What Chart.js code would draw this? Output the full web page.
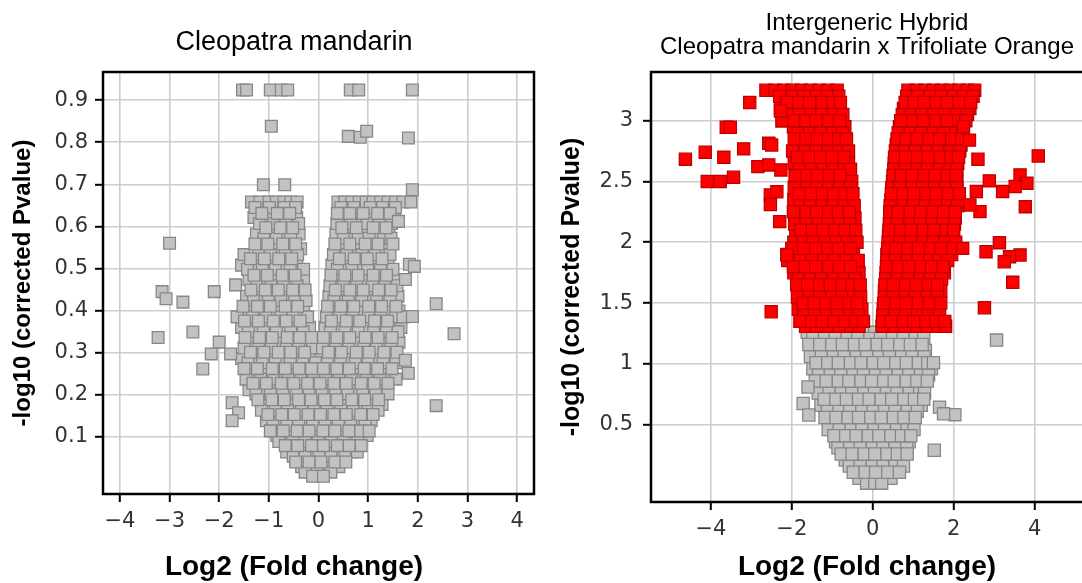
<!DOCTYPE html>
<html>
<head>
<meta charset="utf-8">
<script src="https://cdn.jsdelivr.net/npm/chart.js@4.4.1/dist/chart.umd.min.js"></script>
<style>
  html, body { margin: 0; padding: 0; background: #fff; overflow: hidden; width: 1082px; height: 583px; }
  canvas { position: absolute; top: 0; }
  #cleo { left: 0; }
  #hybrid { left: 545px; }
</style>
</head>
<body>
<canvas id="cleo" width="588" height="583"></canvas>
<canvas id="hybrid" width="644" height="583"></canvas>
<script>
// ---- tick values ----
const cleoXTicks = [-4, -3, -2, -1, 0, 1, 2, 3, 4];
const cleoYTicks = [0.1, 0.2, 0.3, 0.4, 0.5, 0.6, 0.7, 0.8, 0.9];
const hybridXTicks = [-4, -2, 0, 2, 4];
const hybridYTicks = [0.5, 1, 1.5, 2, 2.5, 3];

// ---- Cleopatra mandarin: rows of [ -log10 p, [log2 FC, ...] ] ----
const cleoRows = [
  [0.658, [-1.35, -1.18, -1.0, -0.85, -0.7, -0.56, -0.43, 0.39, 0.53, 0.67, 0.82, 0.96, 1.1, 1.25, 1.4, 1.55, 1.7, 1.86]],
  [0.645, [-1.28, -0.99, -0.69, -0.46, 0.45, 0.71, 1.04, 1.29, 1.55]],
  [0.631, [-1.14, -0.83, -0.58, 0.38, 0.63, 0.9, 1.19, 1.44]],
  [0.621, [-1.3, -1.01, -0.75, -0.44, 0.52, 0.79, 1.07, 1.31, 1.53]],
  [0.607, [-1.19, -0.9, -0.66, -0.4, 0.37, 0.65, 0.97, 1.22, 1.47]],
  [0.597, [-1.06, -0.77, -0.52, 0.47, 0.76, 1.1, 1.36]],
  [0.582, [-1.25, -0.95, -0.71, -0.39, 0.35, 0.62, 0.87, 1.16, 1.42]],
  [0.572, [-1.1, -0.85, -0.56, 0.5, 0.8, 1.02, 1.31, 1.46]],
  [0.558, [-1.28, -1.02, -0.72, -0.46, 0.33, 0.63, 0.94, 1.2, 1.5]],
  [0.547, [-1.15, -0.89, -0.6, -0.36, 0.47, 0.74, 1.07, 1.35]],
  [0.533, [-1.5, -1.21, -0.97, -0.67, -0.42, 0.3, 0.57, 0.88, 1.13, 1.44]],
  [0.523, [-1.37, -1.09, -0.8, -0.54, 0.42, 0.72, 0.98, 1.28]],
  [0.508, [-1.55, -1.26, -0.99, -0.71, -0.44, 0.27, 0.56, 0.84, 1.13, 1.4]],
  [0.498, [-1.43, -1.13, -0.87, -0.57, -0.3, 0.38, 0.67, 0.99, 1.25, 1.5]],
  [0.484, [-1.3, -1.03, -0.73, -0.47, 0.25, 0.53, 0.8, 1.1, 1.37]],
  [0.473, [-1.4, -1.11, -0.85, -0.57, -0.3, 0.36, 0.66, 0.93, 1.23, 1.52]],
  [0.459, [-1.25, -0.96, -0.71, -0.43, 0.23, 0.5, 0.77, 1.08, 1.34, 1.58]],
  [0.449, [-1.36, -1.07, -0.81, -0.52, -0.27, 0.34, 0.63, 0.9, 1.21, 1.46]],
  [0.434, [-1.45, -1.18, -0.89, -0.63, -0.38, 0.21, 0.46, 0.76, 1.02, 1.33, 1.6]],
  [0.424, [-1.31, -1.01, -0.76, -0.48, -0.25, 0.31, 0.6, 0.87, 1.17, 1.44]],
  [0.41, [-1.52, -1.23, -0.97, -0.67, -0.42, 0.18, 0.45, 0.71, 1.01, 1.27, 1.56]],
  [0.399, [-1.4, -1.11, -0.85, -0.56, -0.3, 0.29, 0.55, 0.86, 1.12, 1.42, 1.62]],
  [0.385, [-1.64, -1.33, -1.06, -0.76, -0.51, -0.22, 0.16, 0.43, 0.69, 1.0, 1.26, 1.55, 1.7]],
  [0.375, [-1.49, -1.21, -0.91, -0.65, -0.37, 0.26, 0.56, 0.83, 1.13, 1.39]],
  [0.36, [-1.55, -1.28, -0.98, -0.72, -0.43, -0.18, 0.13, 0.4, 0.66, 0.97, 1.23, 1.51, 1.66]],
  [0.35, [-1.41, -1.11, -0.85, -0.56, -0.31, 0.24, 0.53, 0.8, 1.11, 1.37, 1.6]],
  [0.336, [-1.48, -1.19, -0.93, -0.63, -0.38, -0.14, 0.1, 0.37, 0.63, 0.94, 1.2, 1.48]],
  [0.325, [-1.33, -1.06, -0.76, -0.51, -0.24, 0.21, 0.5, 0.77, 1.07, 1.33, 1.62]],
  [0.311, [-1.5, -1.21, -0.95, -0.65, -0.4, -0.12, 0.08, 0.35, 0.61, 0.91, 1.17, 1.46]],
  [0.301, [-1.37, -1.1, -0.81, -0.56, -0.28, 0.2, 0.46, 0.76, 1.02, 1.32, 1.58]],
  [0.286, [-1.55, -1.25, -0.99, -0.69, -0.44, -0.17, 0.05, 0.33, 0.59, 0.89, 1.15, 1.44]],
  [0.276, [-1.42, -1.13, -0.87, -0.57, -0.32, -0.06, 0.18, 0.44, 0.74, 1.0, 1.3, 1.56]],
  [0.262, [-1.5, -1.23, -0.93, -0.67, -0.39, -0.14, 0.1, 0.37, 0.62, 0.92, 1.19, 1.48]],
  [0.251, [-1.36, -1.07, -0.81, -0.52, -0.27, -0.02, 0.24, 0.51, 0.77, 1.07, 1.33]],
  [0.237, [-1.46, -1.17, -0.91, -0.61, -0.36, -0.1, 0.14, 0.41, 0.66, 0.96, 1.23, 1.56]],
  [0.227, [-1.32, -1.05, -0.75, -0.5, -0.22, 0.03, 0.31, 0.56, 0.86, 1.12, 1.4]],
  [0.212, [-1.4, -1.11, -0.85, -0.57, -0.32, -0.07, 0.19, 0.43, 0.73, 0.99, 1.29]],
  [0.202, [-1.26, -0.97, -0.72, -0.44, -0.19, 0.07, 0.34, 0.59, 0.89, 1.15, 1.4]],
  [0.188, [-1.22, -0.94, -0.69, -0.4, -0.15, 0.12, 0.37, 0.67, 0.93, 1.21]],
  [0.177, [-1.09, -0.83, -0.54, -0.3, -0.03, 0.25, 0.5, 0.8, 1.05, 1.28]],
  [0.163, [-1.15, -0.87, -0.62, -0.34, -0.09, 0.17, 0.45, 0.7, 0.99, 1.2]],
  [0.153, [-1.02, -0.74, -0.49, -0.21, 0.04, 0.31, 0.56, 0.85, 1.1]],
  [0.138, [-1.05, -0.79, -0.51, -0.27, 0.01, 0.25, 0.53, 0.79, 1.06]],
  [0.128, [-0.92, -0.64, -0.4, -0.12, 0.13, 0.4, 0.65, 0.94]],
  [0.114, [-0.97, -0.71, -0.43, -0.19, 0.09, 0.33, 0.61, 0.85, 1.02]],
  [0.103, [-0.84, -0.56, -0.32, -0.04, 0.2, 0.48, 0.73, 0.98]],
  [0.089, [-0.8, -0.52, -0.28, -0.01, 0.26, 0.5, 0.79]],
  [0.079, [-0.67, -0.42, -0.14, 0.1, 0.38, 0.62, 0.86]],
  [0.064, [-0.64, -0.37, -0.13, 0.15, 0.39, 0.67, 0.78]],
  [0.054, [-0.51, -0.27, 0.01, 0.25, 0.53]],
  [0.04, [-0.46, -0.19, 0.05, 0.33, 0.55]],
  [0.029, [-0.34, -0.07, 0.17, 0.41]],
  [0.016, [-0.27, -0.03, 0.25]],
  [0.006, [-0.12, 0.1]],
];
// [log2 FC, -log10 p] points away from the main cloud
const cleoScattered = [
  [-1.53, 0.924], [-1.45, 0.924], [-0.97, 0.924], [-0.75, 0.924], [-0.62, 0.924],
  [0.64, 0.924], [0.81, 0.924], [1.89, 0.924],
  [-0.95, 0.838], [0.6, 0.814], [0.84, 0.812], [0.97, 0.826], [1.81, 0.81],
  [-1.11, 0.699], [-0.68, 0.699], [1.89, 0.687],
  [-3.0, 0.56], [-3.15, 0.445], [-3.07, 0.428], [-2.73, 0.42], [-3.23, 0.336],
  [-2.53, 0.349], [-2.1, 0.445], [-1.67, 0.461], [-2.0, 0.325], [-2.16, 0.297],
  [-1.77, 0.297], [-2.33, 0.261], [-1.74, 0.181], [-1.61, 0.157], [-1.74, 0.138],
  [1.61, 0.612], [1.83, 0.51], [1.93, 0.505], [1.75, 0.474], [2.37, 0.416],
  [1.89, 0.386], [2.73, 0.345], [1.75, 0.282], [1.81, 0.251], [2.37, 0.174],
];

// ---- Intergeneric hybrid: significant genes (red) ----
const hybridRedRows = [
  [3.25, [-2.64, -2.42, -2.2, -1.98, -1.76, -1.54, -1.32, -1.1, -0.88, 0.87, 1.08, 1.29, 1.5, 1.71, 1.92, 2.13, 2.34, 2.52]],
  [3.2, [-2.3, -1.98, -1.7, -1.39, -1.12, -0.84, 0.84, 1.11, 1.42, 1.69, 1.99, 2.24, 2.48]],
  [3.15, [-2.12, -1.83, -1.56, -1.25, -0.99, -0.8, 0.8, 1.02, 1.27, 1.57, 1.83, 2.13, 2.42]],
  [3.1, [-2.28, -2.01, -1.7, -1.44, -1.13, -0.86, 0.76, 1.07, 1.34, 1.63, 1.89, 2.19, 2.4]],
  [3.05, [-2.1, -1.81, -1.53, -1.26, -0.97, -0.74, 0.73, 0.95, 1.21, 1.51, 1.77, 2.07, 2.34]],
  [3.0, [-2.24, -1.96, -1.65, -1.4, -1.09, -0.82, 0.69, 0.99, 1.25, 1.56, 1.83, 2.12, 2.3]],
  [2.95, [-1.96, -1.71, -1.46, -1.16, -0.91, -0.69, 0.66, 0.87, 1.16, 1.42, 1.72, 1.99, 2.24]],
  [2.9, [-1.84, -1.56, -1.29, -0.99, -0.75, 0.63, 0.93, 1.19, 1.49, 1.75, 2.05, 2.22]],
  [2.85, [-1.94, -1.65, -1.37, -1.09, -0.84, -0.65, 0.6, 0.83, 1.09, 1.39, 1.65, 1.95, 2.2]],
  [2.8, [-1.8, -1.53, -1.21, -0.97, -0.69, 0.58, 0.85, 1.15, 1.41, 1.71, 1.97, 2.18]],
  [2.75, [-1.98, -1.67, -1.41, -1.11, -0.85, -0.6, 0.56, 0.79, 1.05, 1.35, 1.61, 1.91, 2.15]],
  [2.7, [-1.86, -1.57, -1.29, -1.01, -0.71, 0.54, 0.81, 1.11, 1.37, 1.67, 1.93, 2.12]],
  [2.65, [-1.94, -1.69, -1.43, -1.14, -0.87, -0.6, 0.53, 0.75, 1.01, 1.31, 1.57, 1.87, 2.1]],
  [2.6, [-1.82, -1.53, -1.25, -0.99, -0.71, -0.55, 0.52, 0.79, 1.09, 1.35, 1.65, 1.91, 2.08]],
  [2.55, [-1.92, -1.63, -1.37, -1.07, -0.81, 0.5, 0.71, 0.97, 1.27, 1.53, 1.83, 2.06]],
  [2.5, [-1.78, -1.51, -1.19, -0.95, -0.65, -0.52, 0.49, 0.77, 1.03, 1.33, 1.59, 1.89, 2.08]],
  [2.45, [-1.94, -1.63, -1.39, -1.09, -0.83, -0.56, 0.47, 0.67, 0.97, 1.23, 1.53, 1.79, 2.08]],
  [2.4, [-1.82, -1.53, -1.24, -0.97, -0.69, -0.49, 0.46, 0.75, 1.01, 1.31, 1.57, 1.87, 2.14]],
  [2.35, [-1.95, -1.67, -1.41, -1.11, -0.85, -0.6, 0.45, 0.65, 0.95, 1.21, 1.51, 1.77, 2.06]],
  [2.3, [-1.8, -1.55, -1.25, -0.99, -0.71, -0.46, 0.43, 0.73, 0.99, 1.29, 1.55, 1.85, 2.1]],
  [2.25, [-1.96, -1.65, -1.39, -1.09, -0.85, -0.58, 0.42, 0.63, 0.93, 1.19, 1.49, 1.75, 2.04]],
  [2.2, [-1.84, -1.53, -1.27, -0.97, -0.71, -0.44, 0.42, 0.69, 0.99, 1.25, 1.55, 1.81, 2.04]],
  [2.15, [-1.93, -1.65, -1.35, -1.11, -0.81, -0.56, 0.41, 0.61, 0.91, 1.17, 1.47, 1.73, 2.02]],
  [2.1, [-1.78, -1.49, -1.23, -0.94, -0.69, -0.42, 0.4, 0.69, 0.95, 1.25, 1.51, 1.81, 2.0]],
  [2.05, [-1.9, -1.61, -1.35, -1.05, -0.81, -0.54, 0.39, 0.59, 0.89, 1.15, 1.45, 1.71, 1.98]],
  [2.0, [-1.95, -1.73, -1.47, -1.17, -0.91, -0.63, -0.39, 0.38, 0.67, 0.93, 1.23, 1.49, 1.79, 2.05]],
  [1.95, [-2.0, -1.71, -1.41, -1.11, -0.85, -0.55, 0.37, 0.57, 0.87, 1.13, 1.43, 1.69, 1.98, 2.22]],
  [1.9, [-2.12, -1.85, -1.59, -1.29, -1.03, -0.73, -0.48, 0.35, 0.65, 0.91, 1.21, 1.47, 1.73, 1.95]],
  [1.85, [-2.1, -1.79, -1.51, -1.21, -0.95, -0.65, -0.36, 0.35, 0.55, 0.85, 1.11, 1.41, 1.63, 1.85]],
  [1.8, [-1.96, -1.67, -1.41, -1.09, -0.83, -0.55, 0.34, 0.63, 0.89, 1.19, 1.45, 1.74]],
  [1.75, [-1.95, -1.65, -1.37, -1.05, -0.79, -0.49, -0.34, 0.33, 0.53, 0.83, 1.09, 1.39, 1.61, 1.77]],
  [1.7, [-1.84, -1.55, -1.27, -0.97, -0.71, -0.44, 0.32, 0.61, 0.87, 1.17, 1.43, 1.7]],
  [1.65, [-1.88, -1.61, -1.31, -1.05, -0.75, -0.51, -0.31, 0.3, 0.51, 0.81, 1.07, 1.37, 1.6]],
  [1.6, [-1.76, -1.47, -1.21, -0.91, -0.65, -0.4, 0.29, 0.59, 0.85, 1.15, 1.41, 1.68]],
  [1.55, [-1.86, -1.57, -1.31, -1.01, -0.75, -0.47, -0.3, 0.29, 0.49, 0.79, 1.05, 1.35, 1.6]],
  [1.5, [-1.72, -1.45, -1.15, -0.89, -0.59, -0.38, 0.27, 0.57, 0.83, 1.13, 1.39, 1.68]],
  [1.45, [-1.84, -1.55, -1.29, -0.99, -0.73, -0.45, -0.27, 0.26, 0.47, 0.77, 1.03, 1.33, 1.58]],
  [1.4, [-1.7, -1.43, -1.13, -0.87, -0.57, -0.36, 0.25, 0.55, 0.81, 1.11, 1.37, 1.65]],
  [1.35, [-1.8, -1.51, -1.25, -0.95, -0.69, -0.43, -0.23, 0.24, 0.45, 0.75, 1.01, 1.31, 1.56, 1.78]],
  [1.31, [-1.66, -1.39, -1.09, -0.83, -0.55, -0.34, 0.23, 0.53, 0.79, 1.09, 1.35, 1.62, 1.8]],
];
const hybridRedScattered = [
  [-3.04, 3.149], [-3.62, 2.946], [-3.52, 2.946], [-4.63, 2.683], [-4.14, 2.74],
  [-3.68, 2.7], [-3.19, 2.768], [-4.09, 2.5], [-3.77, 2.5], [-3.44, 2.535],
  [-2.84, 2.622], [-2.57, 2.815], [-2.5, 2.8], [-2.57, 2.636], [-2.27, 2.595],
  [-2.53, 2.39], [-2.37, 2.416], [-2.53, 2.31], [-2.3, 2.17], [-2.24, 3.0],
  [-2.28, 3.08], [-2.12, 1.896], [-2.51, 1.429],
  [4.09, 2.71], [2.88, 2.505], [3.64, 2.554], [3.81, 2.486], [3.52, 2.458],
  [3.21, 2.417], [2.56, 2.417], [3.77, 2.293], [2.65, 2.252], [2.4, 2.307],
  [3.13, 1.997], [2.8, 1.923], [3.64, 1.896], [3.38, 1.882], [3.25, 1.84],
  [3.46, 1.671], [2.76, 1.462], [2.6, 2.683], [2.39, 2.84], [2.24, 2.95],
];
// ---- Intergeneric hybrid: not significant (grey) ----
const hybridGrayRows = [
  [1.26, [-1.62, -1.33, -1.07, -0.77, -0.51, -0.21, 0.05, 0.35, 0.61, 0.91, 1.2]],
  [1.21, [-1.48, -1.19, -0.93, -0.63, -0.37, -0.07, 0.19, 0.49, 0.75, 1.05, 1.26]],
  [1.16, [-1.58, -1.31, -1.01, -0.75, -0.45, -0.19, 0.11, 0.37, 0.67, 0.93, 1.22]],
  [1.11, [-1.44, -1.15, -0.89, -0.59, -0.33, -0.03, 0.23, 0.53, 0.79, 1.09, 1.3]],
  [1.06, [-1.54, -1.27, -0.97, -0.71, -0.41, -0.15, 0.15, 0.41, 0.71, 0.97, 1.27]],
  [1.01, [-1.4, -1.11, -0.85, -0.55, -0.29, 0.01, 0.27, 0.57, 0.83, 1.13, 1.36, 1.5]],
  [0.96, [-1.48, -1.21, -0.91, -0.65, -0.35, -0.09, 0.21, 0.47, 0.77, 1.03, 1.3, 1.45]],
  [0.91, [-1.34, -1.05, -0.79, -0.49, -0.23, 0.07, 0.33, 0.63, 0.89, 1.18, 1.38]],
  [0.86, [-1.42, -1.15, -0.85, -0.59, -0.29, -0.03, 0.27, 0.53, 0.83, 1.09, 1.35]],
  [0.81, [-1.28, -0.99, -0.73, -0.43, -0.17, 0.13, 0.39, 0.69, 0.95, 1.22]],
  [0.76, [-1.35, -1.08, -0.78, -0.52, -0.22, 0.04, 0.34, 0.6, 0.9, 1.16, 1.28]],
  [0.71, [-1.2, -0.91, -0.65, -0.35, -0.09, 0.21, 0.47, 0.77, 1.03, 1.26]],
  [0.66, [-1.28, -1.01, -0.71, -0.45, -0.15, 0.11, 0.41, 0.67, 0.97, 1.2]],
  [0.61, [-1.12, -0.83, -0.57, -0.27, 0.01, 0.29, 0.55, 0.85, 1.1]],
  [0.56, [-1.18, -0.91, -0.61, -0.35, -0.05, 0.21, 0.51, 0.77, 1.05]],
  [0.51, [-1.04, -0.75, -0.49, -0.19, 0.07, 0.37, 0.63, 0.93]],
  [0.46, [-1.1, -0.83, -0.53, -0.27, 0.03, 0.29, 0.59, 0.85, 1.02]],
  [0.41, [-0.96, -0.67, -0.41, -0.11, 0.15, 0.45, 0.71, 0.94]],
  [0.36, [-0.92, -0.65, -0.35, -0.09, 0.21, 0.47, 0.77, 0.9]],
  [0.31, [-0.86, -0.57, -0.31, -0.01, 0.25, 0.55, 0.84]],
  [0.26, [-0.78, -0.51, -0.21, 0.05, 0.35, 0.61, 0.85]],
  [0.21, [-0.68, -0.39, -0.13, 0.17, 0.43, 0.73]],
  [0.16, [-0.58, -0.31, -0.01, 0.25, 0.55, 0.76]],
  [0.11, [-0.48, -0.19, 0.07, 0.37, 0.66]],
  [0.06, [-0.34, -0.07, 0.19, 0.45]],
  [0.02, [-0.15, 0.05, 0.22]],
];
const hybridGrayScattered = [
  [-1.6, 0.81], [-1.72, 0.675], [-1.58, 0.58], [1.65, 0.645], [2.03, 0.583],
  [1.75, 0.59], [1.52, 0.29], [3.06, 1.196],
];

// rows are drawn in three interleaved passes so the squares overlap unevenly
const fromRows = rows => [0, 1, 2]
  .flatMap(k => rows.filter((row, i) => i % 3 === k))
  .flatMap(([y, xs]) => xs.map(x => ({ x, y })));
const fromPairs = pairs => pairs.map(([x, y]) => ({ x, y }));
const tickLabel = v => String(v).replace('-', '\u2212');

const GRAY = { backgroundColor: '#c2c2c2', borderColor: '#878787' };
const RED = { backgroundColor: '#ff0000', borderColor: '#c00000' };

// black box round the plot area (Chart.js only draws the axis-side borders)
const framePlugin = {
  id: 'frame',
  afterDraw(chart) {
    const { ctx, chartArea: a } = chart;
    ctx.save();
    ctx.strokeStyle = '#000';
    ctx.lineWidth = 2.5;
    ctx.strokeRect(a.left, a.top, a.right - a.left, a.bottom - a.top);
    ctx.restore();
  },
};

function axis(ticks, min, max, size, labelPadding) {
  return {
    type: 'linear',
    min,
    max,
    afterBuildTicks: (scale) => { scale.ticks = ticks.map(value => ({ value })); },
    afterFit: (scale) => { if (scale.isHorizontal()) scale.height = size; else scale.width = size; },
    border: { display: false },
    grid: { color: '#cdcdcd', lineWidth: 1.6, tickColor: '#000', tickWidth: 2, tickLength: 8 },
    ticks: {
      autoSkip: false,
      maxRotation: 0,
      padding: labelPadding,
      color: '#333',
      font: { family: 'DejaVu Sans', size: 21 },
      callback: v => tickLabel(v),
    },
  };
}

function volcano(id, o) {
  const y = axis(o.yTicks, o.yMin, o.yMax, o.yWidth, o.yLabelPad);
  y.title = {
    display: true,
    text: '-log10 (corrected Pvalue)',
    color: '#000',
    font: { family: 'Liberation Sans', size: o.yTitleSize, weight: 'bold', lineHeight: 1 },
    padding: { top: o.yTitlePad, bottom: 0 },
  };

  return new Chart(document.getElementById(id), {
    type: 'scatter',
    data: { datasets: o.datasets },
    options: {
      responsive: false,
      animation: false,
      events: [],
      elements: { point: { pointStyle: 'rect', radius: o.radius, borderWidth: 1.3 } },
      scales: {
        x: axis(o.xTicks, o.xMin, o.xMax, 40, 7),
        y,
        // empty right-hand box: keeps the title centred on the whole figure
        spacer: {
          type: 'linear',
          position: 'right',
          grid: { display: false },
          border: { display: false },
          ticks: { display: false },
          afterFit: (scale) => { scale.width = o.rightSpace; },
        },
      },
      plugins: {
        legend: { display: false },
        tooltip: { enabled: false },
        title: {
          display: true,
          text: o.title,
          color: '#000',
          font: { family: 'Liberation Sans', size: o.titleSize, weight: 'normal', lineHeight: o.titleLine },
          padding: o.titlePad,
        },
        subtitle: {
          display: true,
          position: 'bottom',
          text: 'Log2 (Fold change)',
          color: '#000',
          font: { family: 'Liberation Sans', size: 28, weight: 'bold', lineHeight: 1 },
          padding: o.xTitlePad,
        },
      },
    },
    plugins: [framePlugin],
  });
}

volcano('cleo', {
  title: 'Cleopatra mandarin',
  titleSize: 27,
  titleLine: 1,
  titlePad: { top: 29, bottom: 16 },
  xTitlePad: { top: 19, bottom: 2 },
  xTicks: cleoXTicks, xMin: -4.34, xMax: 4.34,
  yTicks: cleoYTicks, yMin: -0.036, yMax: 0.967,
  yWidth: 103, yLabelPad: 7, yTitleSize: 24, yTitlePad: 11.8,
  rightSpace: 54,
  radius: 8.3,
  datasets: [
    { label: 'genes', data: [...fromRows(cleoRows), ...fromPairs(cleoScattered)], ...GRAY },
  ],
});

volcano('hybrid', {
  title: ['Intergeneric Hybrid', 'Cleopatra mandarin x Trifoliate Orange'],
  titleSize: 24,
  titleLine: 1.0125,
  titlePad: { top: 11.2, bottom: 12.2 },
  xTitlePad: { top: 11, bottom: 2 },
  xTicks: hybridXTicks, xMin: -5.48, xMax: 5.48,
  yTicks: hybridYTicks, yMin: -0.135, yMax: 3.4,
  yWidth: 106, yLabelPad: 10, yTitleSize: 25, yTitlePad: 14.8,
  rightSpace: 94.5,
  radius: 8.6,
  datasets: [
    // significant genes first so they are drawn on top of the grey ones
    { label: 'significant', data: [...fromRows(hybridRedRows), ...fromPairs(hybridRedScattered)], ...RED },
    { label: 'not significant', data: [...fromRows(hybridGrayRows), ...fromPairs(hybridGrayScattered)], ...GRAY },
  ],
});
</script>
</body>
</html>
